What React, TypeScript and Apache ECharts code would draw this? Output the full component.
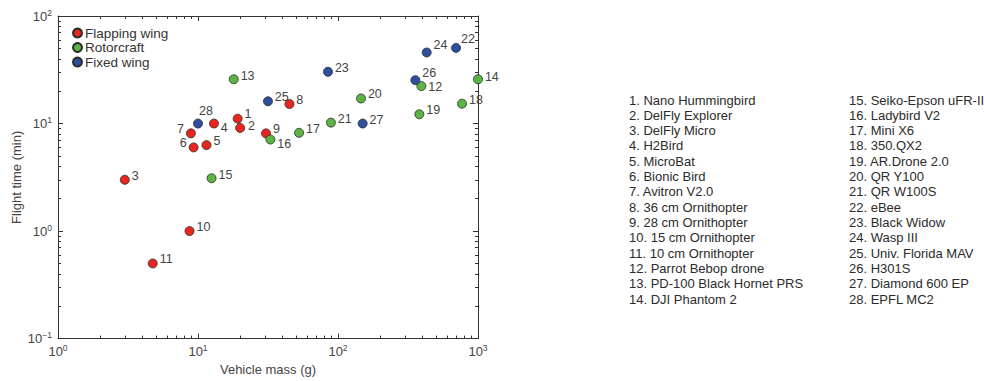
import React, { useEffect, useRef } from "react";
import * as echarts from "echarts";

const CATEGORIES = ["Flapping wing", "Rotorcraft", "Fixed wing"];
const CATEGORY_COLORS = ["#e8261f", "#5bb544", "#2e4f9f"];

const vehicleNames = [
  "Nano Hummingbird",
  "DelFly Explorer",
  "DelFly Micro",
  "H2Bird",
  "MicroBat",
  "Bionic Bird",
  "Avitron V2.0",
  "36 cm Ornithopter",
  "28 cm Ornithopter",
  "15 cm Ornithopter",
  "10 cm Ornithopter",
  "Parrot Bebop drone",
  "PD-100 Black Hornet PRS",
  "DJI Phantom 2",
  "Seiko-Epson uFR-II",
  "Ladybird V2",
  "Mini X6",
  "350.QX2",
  "AR.Drone 2.0",
  "QR Y100",
  "QR W100S",
  "eBee",
  "Black Widow",
  "Wasp III",
  "Univ. Florida MAV",
  "H301S",
  "Diamond 600 EP",
  "EPFL MC2",
];

// 0 = flapping wing, 1 = rotorcraft, 2 = fixed wing
const vehicleType = [0, 0, 0, 0, 0, 0, 0, 0, 0, 0, 0, 1, 1, 1, 1, 1, 1, 1, 1, 1, 1, 2, 2, 2, 2, 2, 2, 2];

// vehicle mass (g)
const vehicleMass = [19.2, 20, 3.0, 13, 11.5, 9.3, 8.9, 45, 30.6, 8.7, 4.75, 394, 18, 1000, 12.5, 32.9, 52.7, 769, 381, 146, 89, 697, 84.8, 430, 31.6, 357, 150, 10];
// flight time (min)
const flightTime = [11.1, 9.1, 3.0, 10, 6.3, 6.0, 8.1, 15.2, 8.1, 1.0, 0.5, 22.3, 25.8, 25.8, 3.1, 7.1, 8.2, 15.3, 12.2, 17.1, 10.2, 50.5, 30.3, 45.8, 16.1, 25.3, 10, 10];

const xMajorTicks = [1, 10, 100, 1000];
const xMinorTicks = [2, 3, 4, 5, 6, 7, 8, 9, 20, 30, 40, 50, 60, 70, 80, 90, 200, 300, 400, 500, 600, 700, 800, 900];
const yMajorTicks = [0.1, 1, 10, 100];
const yMinorTicks = [0.2, 0.3, 0.4, 0.5, 0.6, 0.7, 0.8, 0.9, 2, 3, 4, 5, 6, 7, 8, 9, 20, 30, 40, 50, 60, 70, 80, 90];

// label placement tweaks (style only)
const labelTweaks: Record<number, { position?: string; offset?: number[] }> = {
  1: { offset: [0, -5] },
  2: { offset: [1, -2] },
  4: { offset: [0, 4] },
  6: { position: "left", offset: [0, -4] },
  7: { position: "left", offset: [0, -4] },
  12: { offset: [0, 1] },
  13: { offset: [0, -3] },
  14: { offset: [0, -2] },
  15: { offset: [0, -3] },
  16: { offset: [0, 4] },
  22: { offset: [-2, -9] },
  24: { offset: [0, -7] },
  26: { offset: [0, -7] },
  28: { position: "top", offset: [8, 1] },
};

const FONT = "'Liberation Sans', Arial, sans-serif";
const AXIS_COLOR = "#333";
const TEXT_COLOR = "#444";

function supLabel(v: number) {
  const e = Math.round(Math.log10(v));
  const es = e < 0 ? "\u2212" + Math.abs(e) : String(e);
  return `{m|10}{e|${es}}`;
}

const richSup = {
  m: { fontSize: 13, lineHeight: 16, color: TEXT_COLOR, fontFamily: FONT },
  e: { fontSize: 8.5, lineHeight: 9, color: TEXT_COLOR, fontFamily: FONT, verticalAlign: "top" },
};

function makeAxis(kind: "x" | "y", position: string, ticks: number[], len: number, withLine: boolean, withLabel: boolean, extent: [number, number]) {
  return {
    type: "log",
    logBase: 10,
    min: extent[0],
    max: extent[1],
    position,
    gridIndex: 0,
    axisLine: { show: withLine, lineStyle: { color: AXIS_COLOR, width: 1 } },
    axisTick: { show: true, inside: true, length: len, customValues: ticks, lineStyle: { color: AXIS_COLOR, width: 1 } },
    minorTick: { show: false },
    splitLine: { show: false },
    axisLabel: withLabel
      ? {
          show: true,
          customValues: ticks,
          formatter: (v: number) => supLabel(v),
          rich: richSup,
          margin: kind === "x" ? 5 : 6,
        }
      : { show: false },
  };
}

export default function App() {
  const ref = useRef<HTMLDivElement>(null);
  useEffect(() => {
    document.body.style.margin = "0";
    if (!ref.current) return;
    const chart = echarts.init(ref.current, null, { renderer: "svg" });

    const xExt: [number, number] = [1, 1000];
    const yExt: [number, number] = [0.1, 100];

    const xAxis: any[] = [
      { ...makeAxis("x", "bottom", xMajorTicks, 5, true, true, xExt), name: "Vehicle mass (g)", nameLocation: "middle", nameGap: 21, nameTextStyle: { fontSize: 13, color: TEXT_COLOR, fontFamily: FONT } },
      makeAxis("x", "bottom", xMinorTicks, 3, false, false, xExt),
      makeAxis("x", "top", xMajorTicks, 5, true, false, xExt),
      makeAxis("x", "top", xMinorTicks, 3, false, false, xExt),
    ];
    const yAxis: any[] = [
      { ...makeAxis("y", "left", yMajorTicks, 5, true, true, yExt), name: "Flight time (min)", nameLocation: "middle", nameGap: 35, nameRotate: 90, nameTextStyle: { fontSize: 13, color: TEXT_COLOR, fontFamily: FONT } },
      makeAxis("y", "left", yMinorTicks, 3, false, false, yExt),
      makeAxis("y", "right", yMajorTicks, 5, true, false, yExt),
      makeAxis("y", "right", yMinorTicks, 3, false, false, yExt),
    ];

    const series = CATEGORIES.map((cat, ci) => ({
      name: cat,
      type: "scatter",
      xAxisIndex: 0,
      yAxisIndex: 0,
      symbol: "circle",
      symbolSize: 9,
      clip: false,
      itemStyle: { color: CATEGORY_COLORS[ci], borderColor: "#2a2a2a", borderWidth: 0.8, opacity: 1 },
      label: {
        show: true,
        position: "right",
        distance: 2,
        offset: [0, -4],
        fontSize: 12.5,
        color: TEXT_COLOR,
        fontFamily: FONT,
        formatter: (p: any) => String(p.data.id),
      },
      emphasis: { disabled: true },
      data: vehicleMass
        .map((m, i) => ({ m, i }))
        .filter(({ i }) => vehicleType[i] === ci)
        .map(({ m, i }) => {
          const id = i + 1;
          const tw = labelTweaks[id];
          const item: any = { value: [m, flightTime[i]], id, name: vehicleNames[i] };
          if (tw) item.label = { ...(tw.position ? { position: tw.position } : {}), ...(tw.offset ? { offset: tw.offset } : {}) };
          return item;
        }),
    }));

    const listItems: any[] = vehicleNames.map((n, i) => {
      const col = i < 14 ? 0 : 1;
      const row = i % 14;
      return {
        type: "text",
        x: col === 0 ? 629 : 849,
        y: 100 + row * 15.33,
        style: { text: `${i + 1}. ${n}`, fontSize: 13, fill: "#2b2b2b", fontFamily: FONT, verticalAlign: "middle", align: "left" },
        silent: true,
      };
    });

    chart.setOption({
      animation: false,
      backgroundColor: "#fff",
      grid: { left: 58, top: 16, width: 420, height: 330, containLabel: false },
      legend: {
        data: CATEGORIES,
        orient: "vertical",
        left: 67,
        top: 21,
        icon: "circle",
        itemWidth: 9,
        itemHeight: 9,
        itemGap: 0.5,
        selectedMode: false,
        textStyle: { fontSize: 13.5, color: "#333", fontFamily: FONT, padding: [0, 0, 0, -2] },
      },
      xAxis,
      yAxis,
      series,
      graphic: listItems,
    });
    return () => chart.dispose();
  }, []);
  return <div ref={ref} style={{ width: 984, height: 381 }} />;
}
